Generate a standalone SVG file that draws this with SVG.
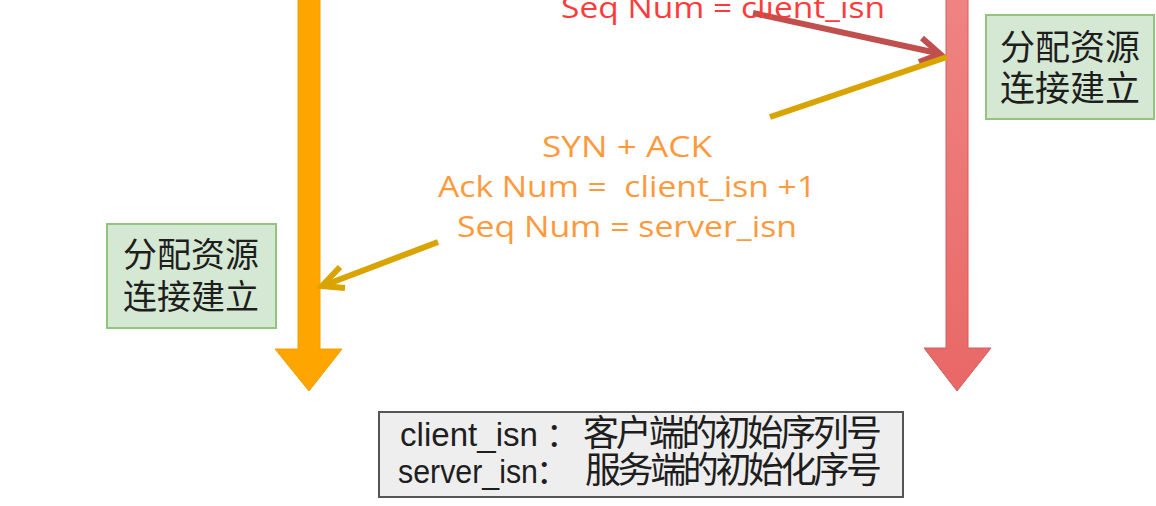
<svg xmlns="http://www.w3.org/2000/svg" width="1156" height="506" viewBox="0 0 1156 506">
<defs>
<style>
.cjk{font-family:"Noto Sans CJK SC","Noto Sans",sans-serif;fill:#1e1e1e}
.hand{font-family:"Open Sans","DejaVu Sans",sans-serif;font-size:29px;text-anchor:start}
.note{font-family:"Liberation Sans","Noto Sans CJK SC",sans-serif;font-size:33px;fill:#1e1e1e}
.gbox{fill:#d5e8d4;stroke:#93c47d;stroke-width:2}
</style>
<linearGradient id="redg" x1="0" y1="0" x2="0" y2="1">
<stop offset="0" stop-color="#ef8482"/>
<stop offset="1" stop-color="#e86866"/>
</linearGradient>
</defs>
<rect width="1156" height="506" fill="#ffffff"/>

<g id="client-line">
<polygon points="298,-2 320,-2 320,349 342,349 309,391 275,349 298,349" fill="#ffa500" stroke="#f0a000" stroke-width="1"/>
</g>
<g id="server-line">
<polygon points="946,-2 968,-2 968,348 991,348 957,391 924,348 946,348" fill="url(#redg)" stroke="#d35f5d" stroke-width="1"/>
</g>

<g id="connectors" fill="none" stroke-linecap="butt" stroke-linejoin="miter">
<g id="syn-arrow" stroke="#c0504d" stroke-width="6">
<line x1="753" y1="13" x2="937" y2="53"/>
<polyline points="922,38 940,54 919,62"/>
</g>
<g id="synack-arrow" stroke="#d9a300" stroke-width="6">
<line x1="947" y1="57" x2="770" y2="117"/>
<line x1="438" y1="242" x2="325" y2="285"/>
<polyline points="340,267 322,286 345,288"/>
</g>
</g>

<g id="syn-label">
<text class="hand" x="561" y="18" fill="#ff3b3b" textLength="324" lengthAdjust="spacingAndGlyphs">Seq Num = client_isn</text>
</g>
<g id="synack-label" fill="#ff9a3c">
<text class="hand" x="542" y="157" textLength="170" lengthAdjust="spacingAndGlyphs">SYN + ACK</text>
<text class="hand" x="438" y="197" textLength="378" lengthAdjust="spacingAndGlyphs" xml:space="preserve">Ack Num =  client_isn +1</text>
<text class="hand" x="457" y="237" textLength="340" lengthAdjust="spacingAndGlyphs">Seq Num = server_isn</text>
</g>

<g id="client-box">
<rect class="gbox" x="107" y="224" width="169" height="104"/>
<text class="cjk" x="191" y="267" font-size="34" text-anchor="middle">分配资源</text>
<text class="cjk" x="191" y="309" font-size="34" text-anchor="middle">连接建立</text>
</g>
<g id="server-box">
<rect class="gbox" x="986" y="15" width="168" height="104"/>
<text class="cjk" x="1070" y="60" font-size="35" text-anchor="middle">分配资源</text>
<text class="cjk" x="1070" y="101" font-size="35" text-anchor="middle">连接建立</text>
</g>

<g id="legend">
<rect x="379" y="412" width="524" height="85" fill="#eeeeee" stroke="#555555" stroke-width="2"/>
<text class="note" y="446"><tspan x="400" textLength="138" lengthAdjust="spacingAndGlyphs">client_isn</tspan><tspan x="546">：</tspan><tspan x="583" textLength="299" lengthAdjust="spacing" font-family="Noto Sans CJK SC, sans-serif" font-size="36">客户端的初始序列号</tspan></text>
<text class="note" y="483"><tspan x="398" textLength="140" lengthAdjust="spacingAndGlyphs">server_isn</tspan><tspan x="536">：</tspan><tspan x="585" textLength="297" lengthAdjust="spacing" font-family="Noto Sans CJK SC, sans-serif" font-size="36">服务端的初始化序号</tspan></text>
</g>
</svg>
